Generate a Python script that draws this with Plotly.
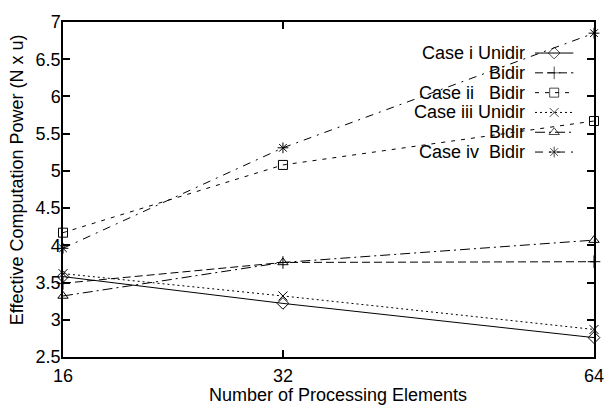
import numpy as np
import plotly.graph_objects as go

# ---- data ----
pe_counts = [16, 32, 64]
pe_labels = ["16", "32", "64"]
case_i_unidir = [3.58, 3.22, 2.76]
case_i_bidir = [3.49, 3.77, 3.78]
case_ii_bidir = [4.17, 5.08, 5.67]
case_iii_unidir = [3.62, 3.32, 2.87]
case_iii_bidir = [3.32, 3.77, 4.07]
case_iv_bidir = [3.96, 5.31, 6.85]
y_tick_vals = [2.5, 3, 3.5, 4, 4.5, 5, 5.5, 6, 6.5, 7]
y_tick_text = ["2.5", "3", "3.5", "4", "4.5", "5", "5.5", "6", "6.5", "7"]
legend_labels = ["Case i Unidir", "Bidir", "Case ii   Bidir", "Case iii Unidir", "Bidir", "Case iv  Bidir"]

series = [case_i_unidir, case_i_bidir, case_ii_bidir, case_iii_unidir, case_iii_bidir, case_iv_bidir]
symbols = ["diamond-open", "cross-thin-open", "square-open", "x-thin-open", "triangle-up-open", "asterisk-open"]
dashes = ["solid", "8px,4px", "4px,6px", "2px,3px", "10px,4px,2px,4px", "8px,6px,2px,6px"]

W, H = 616, 408
L, R, T, B = 63, 603, 17, 357
FONT = "Liberation Sans, Arial, Helvetica, sans-serif"
FS = 18

xpos = np.sqrt(np.array(pe_counts, dtype=float))

fig = go.Figure()
for vals, sym, dash in zip(series, symbols, dashes):
    fig.add_trace(go.Scatter(
        x=xpos, y=vals, mode="lines+markers",
        line=dict(color="black", width=1, dash=dash),
        marker=dict(symbol=sym, size=9, color="black", line=dict(color="black", width=1)),
        showlegend=False, cliponaxis=False,
    ))

# ---- manual key (text left of samples, as in the original) ----
row0, row_step = 48.5, 20.1
sx0, sx1 = 543, 582
for i, (lab, sym, dash) in enumerate(zip(legend_labels, symbols, dashes)):
    ry = row0 + i * row_step
    fig.add_trace(go.Scatter(
        x=[sx0, (sx0 + sx1) / 2, sx1], y=[ry, ry, ry], mode="lines+markers",
        xaxis="x2", yaxis="y2",
        line=dict(color="black", width=1, dash=dash),
        marker=dict(symbol=sym, size=[0, 9, 0], color="black", line=dict(color="black", width=1)),
        showlegend=False, cliponaxis=False,
    ))
    fig.add_annotation(x=535, y=ry, xref="x2", yref="y2", text=lab, showarrow=False,
                       xanchor="right", yanchor="middle", font=dict(family=FONT, size=FS, color="black"))

axis_common = dict(showline=True, linecolor="black", linewidth=1.5, mirror="ticks",
                   ticks="inside", ticklen=7, tickcolor="black", tickwidth=1.5,
                   showgrid=False, zeroline=False,
                   tickfont=dict(family=FONT, size=FS, color="black"))

fig.update_layout(
    width=W, height=H,
    margin=dict(l=L, r=W - R, t=T, b=H - B, pad=0),
    paper_bgcolor="white", plot_bgcolor="white",
    xaxis=dict(range=[xpos[0], xpos[-1]], tickvals=xpos, ticktext=pe_labels,
               ticklabelstandoff=2, **axis_common),
    yaxis=dict(range=[2.5, 7], tickvals=y_tick_vals, ticktext=y_tick_text,
               ticklabelstandoff=-3, **axis_common),
    xaxis2=dict(range=[L, R], overlaying="x", anchor="y2", visible=False),
    yaxis2=dict(range=[B, T], overlaying="y", anchor="x2", visible=False),
)

fig.add_annotation(x=(343 - L) / (R - L), y=-(396 - B) / (B - T), xref="paper", yref="paper",
                   xanchor="center", yanchor="middle",
                   text="Number of Processing Elements", showarrow=False,
                   font=dict(family=FONT, size=FS, color="black"))
fig.add_annotation(x=-(L - 17) / (R - L), y=0.53, xref="paper", yref="paper",
                   xanchor="center", yanchor="middle",
                   text="Effective Computation Power (N x u)", showarrow=False, textangle=-90,
                   font=dict(family=FONT, size=FS, color="black"))

fig.write_html("out.html")
